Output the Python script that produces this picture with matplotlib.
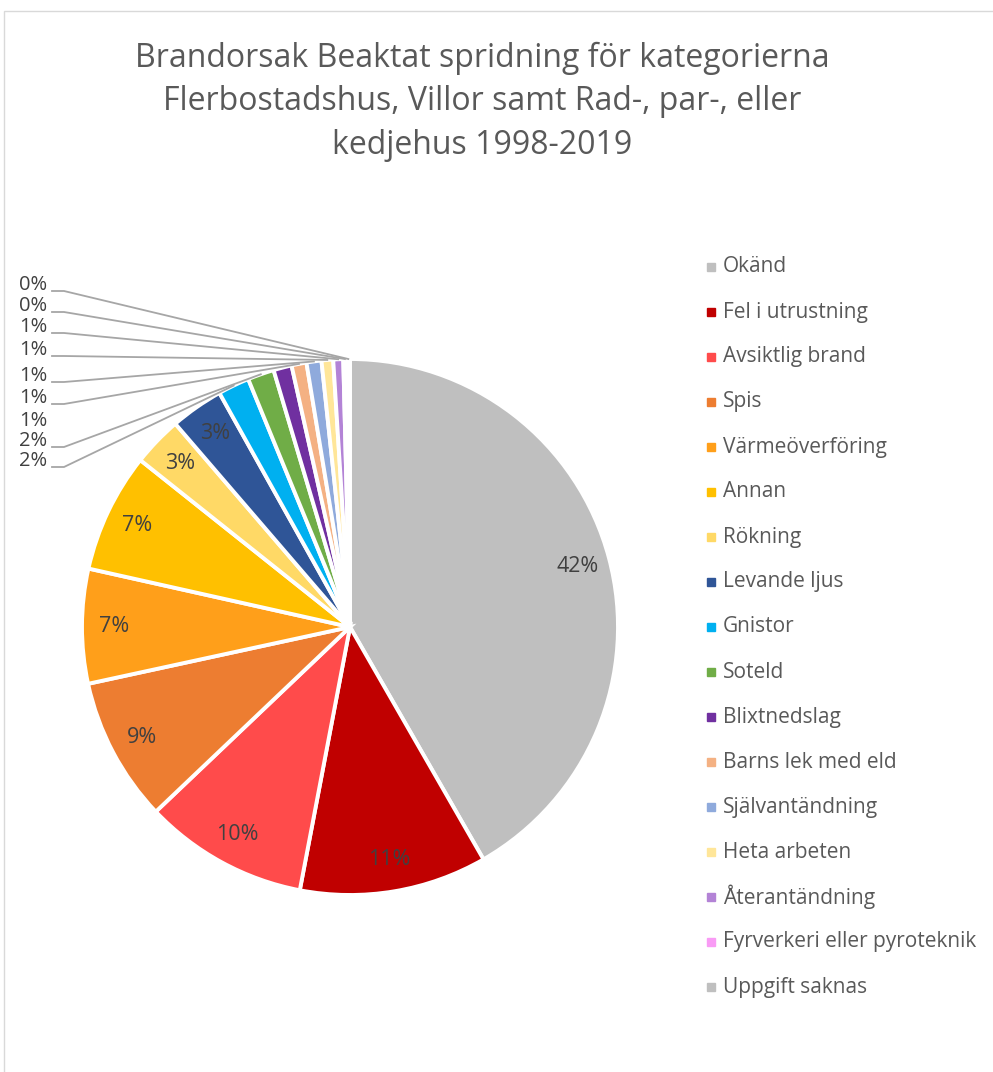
import numpy as np
import matplotlib.pyplot as plt
from matplotlib.lines import Line2D
from matplotlib.patches import Rectangle

# data (percent of all fires)
categories = ["Okänd", "Fel i utrustning", "Avsiktlig brand", "Spis", "Värmeöverföring",
              "Annan", "Rökning", "Levande ljus", "Gnistor", "Soteld", "Blixtnedslag",
              "Barns lek med eld", "Självantändning", "Heta arbeten", "Återantändning",
              "Fyrverkeri eller pyroteknik", "Uppgift saknas"]
values = [41.7, 11.3, 9.9, 8.7, 6.9, 7.2, 3.0, 3.2, 1.9, 1.6, 1.1, 0.9, 0.9, 0.7, 0.6, 0.2, 0.2]
colors = ["#BFBFBF", "#C00000", "#FF4B4B", "#ED7D31", "#FF9F1A", "#FFC000", "#FFD966",
          "#2F5597", "#00B0F0", "#70AD47", "#7030A0", "#F4B183", "#8FAADC", "#FFE699",
          "#B383D6", "#F99BF5", "#BFBFBF"]
title_lines = ["Brandorsak Beaktat spridning för kategorierna",
               "Flerbostadshus, Villor samt Rad-, par-, eller",
               "kedjehus 1998-2019"]

W, H = 993, 1072
cx, cy, R = 350, 627, 268

fig = plt.figure(figsize=(W / 100, H / 100), dpi=100)
fig.patch.set_facecolor("white")

# chart border (only top and left visible in the crop)
fig.add_artist(Rectangle((4 / W, -0.1), 1.2, 1 - 11 / H + 0.1, fill=False,
                         edgecolor="#D9D9D9", lw=1, transform=fig.transFigure))

for i, line in enumerate(title_lines):
    fig.text(482 / W, 1 - (58 + 44 * i) / H, line, ha="center", va="center",
             fontsize=23, color="#595959", family="Open Sans")

ax = fig.add_axes([(cx - R) / W, (H - cy - R) / H, 2 * R / W, 2 * R / H])
wedges, _ = ax.pie(values, colors=colors, startangle=90, counterclock=False,
                   wedgeprops=dict(edgecolor="white", linewidth=2.8))
ax.set_xlim(-1, 1)
ax.set_ylim(-1, 1)
ax.set_aspect("auto")
ax.axis("off")

total = sum(values)
mids = []
for w in wedges:
    mids.append(np.deg2rad((w.theta1 + w.theta2) / 2))

# labels inside the large slices
for i, v in enumerate(values):
    if v < 3:
        continue
    a = mids[i]
    ax.text(0.88 * np.cos(a), 0.88 * np.sin(a), f"{round(v / total * 100)}%",
            ha="center", va="center", fontsize=15.5, color="#404040", family="Open Sans")

# small slices: labels stacked on the left with leader lines
small = [i for i, v in enumerate(values) if v < 3]
label_y = [461, 441, 421, 398, 376, 350, 327, 306, 285]
for k, i in enumerate(small):
    yl = (cy - label_y[k]) / R
    ys = (cy - label_y[k] - 6) / R
    ax.text((47 - cx) / R, yl, f"{round(values[i] / total * 100)}%", ha="right",
            va="center", fontsize=14.5, color="#404040", family="Open Sans", clip_on=False)
    if k == 2:
        continue  # this one has no leader line in the original
    a = mids[i]
    ax.plot([(52 - cx) / R, (64 - cx) / R, np.cos(a)], [ys, ys, np.sin(a)],
            color="#A6A6A6", lw=1.3, clip_on=False)

# legend
for i, (c, lab) in enumerate(zip(colors, categories)):
    y = 1 - (267 + 45 * i) / H
    fig.add_artist(Line2D([711 / W], [y], marker="s", markersize=6.3, color=c,
                          linestyle="none", transform=fig.transFigure))
    fig.text(723 / W, y, lab, ha="left", va="center", fontsize=15, color="#595959",
             family="Open Sans")

fig.savefig("out.png", dpi=100)
